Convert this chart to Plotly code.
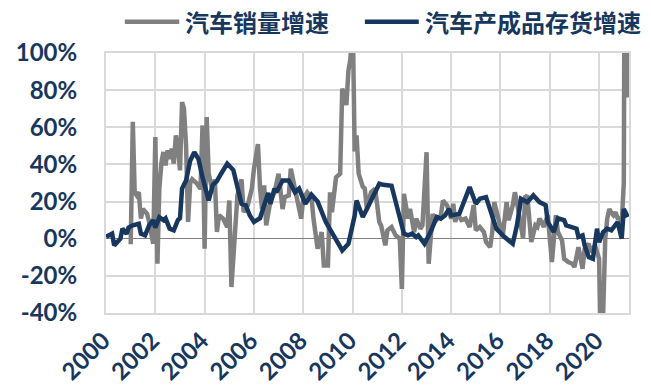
import plotly.graph_objects as go

# Series names
sales_name = "汽车销量增速"
inventory_name = "汽车产成品存货增速"

# Auto sales growth, year-on-year (%)
sales_dates = [
    "2001-01", "2001-02", "2001-03", "2001-04", "2001-05", "2001-06", "2001-07", "2001-09", "2001-10", "2001-12",
    "2002-01", "2002-02", "2002-03", "2002-04", "2002-05", "2002-06", "2002-07", "2002-08", "2002-09", "2002-10",
    "2002-11", "2002-12", "2003-01", "2003-02", "2003-03", "2003-04", "2003-05", "2003-06", "2003-07", "2003-09",
    "2003-11", "2003-12", "2004-01", "2004-02", "2004-03", "2004-05", "2004-06", "2004-07", "2004-08", "2004-10",
    "2004-12", "2005-01", "2005-02", "2005-04", "2005-05", "2005-07", "2005-08", "2005-10", "2005-12", "2006-01",
    "2006-03", "2006-04", "2006-05", "2006-06", "2006-07", "2006-09", "2006-11", "2007-01", "2007-03", "2007-04",
    "2007-06", "2007-07", "2007-09", "2007-10", "2007-12", "2008-01", "2008-03", "2008-05", "2008-06", "2008-08",
    "2008-10", "2008-11", "2009-01", "2009-02", "2009-03", "2009-05", "2009-07", "2009-08", "2009-10", "2009-11",
    "2009-12", "2010-01", "2010-02", "2010-03", "2010-04", "2010-06", "2010-07", "2010-08", "2010-10", "2010-12",
    "2011-02", "2011-03", "2011-05", "2011-06", "2011-08", "2011-10", "2011-12", "2012-01", "2012-02", "2012-04",
    "2012-05", "2012-07", "2012-08", "2012-10", "2012-11", "2013-01", "2013-02", "2013-04", "2013-05", "2013-08",
    "2013-09", "2013-11", "2014-01", "2014-02", "2014-03", "2014-04", "2014-06", "2014-08", "2014-10", "2014-12",
    "2015-01", "2015-03", "2015-05", "2015-06", "2015-08", "2015-09", "2015-10", "2015-12", "2016-02", "2016-04",
    "2016-05", "2016-07", "2016-08", "2016-09", "2016-11", "2016-12", "2017-01", "2017-02", "2017-04", "2017-06",
    "2017-07", "2017-08", "2017-09", "2017-10", "2017-12", "2018-02", "2018-04", "2018-05", "2018-07", "2018-08",
    "2018-10", "2018-12", "2019-01", "2019-02", "2019-03", "2019-05", "2019-06", "2019-08", "2019-09", "2019-11",
    "2020-01", "2020-02", "2020-03", "2020-04", "2020-05", "2020-06", "2020-07", "2020-08", "2020-09", "2020-10",
    "2020-11", "2020-12", "2021-01", "2021-02", "2021-03",
]
sales_growth = [
    -3, 63, 25, 23.3, 25, 10.8, 16, 13.4, 9, -2.7,
    54.7, -13.5, 26.9, 41, 46.7, 39.5, 47.6, 43, 48.5, 40.4,
    55.6, 50.3, 36.8, 73.6, 70, 50, 9, 29.8, 32, 30,
    27, 61, -5.4, 65.5, 35, 25, 32, 3.6, 12.6, 10.8,
    6.3, 20.6, -26, 7.2, 23.3, 32, 14.3, 18, 27, 37.7,
    51, 27, 16, 28.7, 7.2, 20, 25, 35, 16, 22.4,
    23.3, 37.7, 27, 23.3, 10.8, 21.5, 25, 22.4, 10.8, -5.4,
    3.6, -14.4, -14.4, 25, 14.3, 33, 35, 80.8, 72, 90.6,
    97, 124, 47, 55.6, 35, 28, 27, 16, 25, 27,
    9, 7, -3.6, 4.5, 6.3, 1.8, 0, -27, 24.2, 10.8,
    16, 3.6, 10.8, 5.4, 7.2, 46.6, -13.5, 13.4, 9, 12.6,
    20.6, 18, 10.8, 18.8, 9, 13.4, 10, 10.8, 6.3, 18,
    4.5, 6.3, 3.6, -1.8, -4.5, 3.6, 19.7, 10.8, 0.9, 19.7,
    10, 18, 25, 19.7, 3.6, 0, 22.4, 23.3, -1.8, 7.2,
    6.3, 10.8, 9, 6.3, 12.6, -12.6, 12.6, 3.6, -0.9, -10.8,
    -12.6, -13.5, -15.3, -10.8, -4.5, -16.2, -5.4, -2.7, -7.2, -3.6,
    -10.8, -79, -43, 0, 11, 16, 14, 12.6, 14.3, 11,
    11, 8, 30, 365, 76,
]

# Finished-goods inventory growth of the auto industry, year-on-year (%)
inventory_dates = [
    "2000-01", "2000-04", "2000-05", "2000-08", "2000-09", "2000-11", "2000-12", "2001-02", "2001-05", "2001-06",
    "2001-08", "2001-10", "2001-12", "2002-01", "2002-03", "2002-05", "2002-06", "2002-08", "2002-10", "2002-12",
    "2003-01", "2003-02", "2003-04", "2003-05", "2003-06", "2003-08", "2003-10", "2003-12", "2004-03", "2004-05",
    "2004-07", "2004-09", "2004-10", "2004-12", "2005-03", "2005-04", "2005-07", "2005-09", "2005-11", "2006-01",
    "2006-04", "2006-06", "2006-08", "2006-09", "2006-11", "2006-12", "2007-03", "2007-06", "2007-09", "2007-11",
    "2008-02", "2008-05", "2008-08", "2008-12", "2009-04", "2009-08", "2009-11", "2010-02", "2010-03", "2010-06",
    "2010-08", "2011-02", "2011-04", "2011-08", "2012-02", "2012-04", "2012-06", "2012-08", "2012-09", "2012-12",
    "2013-03", "2013-06", "2013-08", "2013-10", "2013-12", "2014-01", "2014-05", "2014-08", "2014-10", "2015-01",
    "2015-03", "2015-06", "2015-09", "2015-11", "2016-03", "2016-05", "2016-07", "2016-09", "2016-11", "2017-02",
    "2017-05", "2017-08", "2017-11", "2017-12", "2018-03", "2018-05", "2018-08", "2018-09", "2018-12", "2019-02",
    "2019-03", "2019-05", "2019-06", "2019-08", "2019-10", "2019-12", "2020-01", "2020-03", "2020-05", "2020-07",
    "2020-10", "2020-12", "2021-01", "2021-03",
]
inventory_growth = [
    1, 2.7, -3.6, 0, 5.4, 2.7, 6, 7.2, 8, 2.7,
    1.8, 7.2, 10, 6, 11.6, 10, 11, 5.4, 4.5, 10,
    11, 27, 31.4, 37.7, 42, 46.6, 43, 33, 20.6, 29,
    31, 35, 37, 40.4, 37, 32, 18.8, 18, 12.5, 9,
    11, 18, 24.6, 18.8, 27, 25, 31.4, 31.4, 25, 27,
    18.8, 23.7, 20, 9, 0.9, -6.3, -2.7, 12.5, 20.6, 11.7,
    16, 29.6, 29, 28.5, 2.7, 1.8, 2.7, 0.9, 1.8, -2.7,
    3.6, 11.7, 10.8, 12.5, 16, 12.5, 13.4, 21.5, 27.8, 18.8,
    21.5, 22.4, 11, 5.4, 0.9, -0.9, -2.7, 7.2, 21.5, 19.7,
    23.3, 19.7, 18, 9, 3.6, 11, 10, 7.2, 6.3, 5.4,
    0.9, 1.8, -3.6, -9.9, -10.8, 5.4, -1.8, 3.6, 5.4, 4.5,
    9, 0, 16, 11.7,
]

# Axis settings
year_ticks = ["2000", "2002", "2004", "2006", "2008", "2010", "2012", "2014", "2016", "2018", "2020"]
y_ticks = [-40, -20, 0, 20, 40, 60, 80, 100]

NAVY = "#17375E"
GRAY = "#808080"
GRID = "#D9D9D9"
FONT = "Lato, 'Noto Sans CJK SC', sans-serif"

fig = go.Figure()
fig.add_trace(go.Scatter(
    x=sales_dates, y=sales_growth, name=sales_name, mode="lines",
    line=dict(color=GRAY, width=4.5), showlegend=False,
))
fig.add_trace(go.Scatter(
    x=inventory_dates, y=inventory_growth, name=inventory_name, mode="lines",
    line=dict(color=NAVY, width=4.5), showlegend=False,
))

# Legend drawn as line samples plus labels above the plot
legend_items = [(sales_name, GRAY, 0.036, 0.140, 0.147),
                (inventory_name, NAVY, 0.495, 0.598, 0.606)]
for name, color, x0, x1, xt in legend_items:
    fig.add_shape(type="line", xref="paper", yref="paper", x0=x0, x1=x1, y0=1.12, y1=1.12,
                  line=dict(color=color, width=4.5))
    fig.add_annotation(text=name, xref="paper", yref="paper", x=xt, y=1.12,
                       xanchor="left", yanchor="middle", showarrow=False,
                       font=dict(family="'Noto Sans CJK SC', sans-serif", size=24,
                                 color=NAVY, weight="bold"))

fig.update_layout(
    width=651, height=389,
    margin=dict(l=106, r=22, t=53, b=76),
    paper_bgcolor="white", plot_bgcolor="white",
    font=dict(family=FONT, size=24, color=NAVY, weight="bold"),
    showlegend=False,
    xaxis=dict(
        type="date",
        range=["2000-01-01", "2021-03-19"],
        tickvals=[f"{y}-01-01" for y in year_ticks],
        ticktext=year_ticks,
        tickangle=-45,
        automargin=False,
        showgrid=True, gridcolor=GRID, gridwidth=2,
        showline=True, linecolor=GRID, linewidth=2, mirror=True,
        ticks="", ticklabelstandoff=2, ticklabelshift=-3,
        tickfont=dict(family=FONT, size=24, color=NAVY, weight="bold"),
    ),
    yaxis=dict(
        range=[-40, 100],
        tickvals=y_ticks,
        ticktext=[f"{v}%" for v in y_ticks],
        automargin=False,
        showgrid=True, gridcolor=GRID, gridwidth=2,
        zeroline=True, zerolinecolor="#7F7F7F", zerolinewidth=1,
        showline=True, linecolor=GRID, linewidth=2, mirror=True,
        ticks="", ticklabelstandoff=22,
        tickfont=dict(family=FONT, size=24, color=NAVY, weight="bold"),
    ),
)

fig.write_html("out.html")
